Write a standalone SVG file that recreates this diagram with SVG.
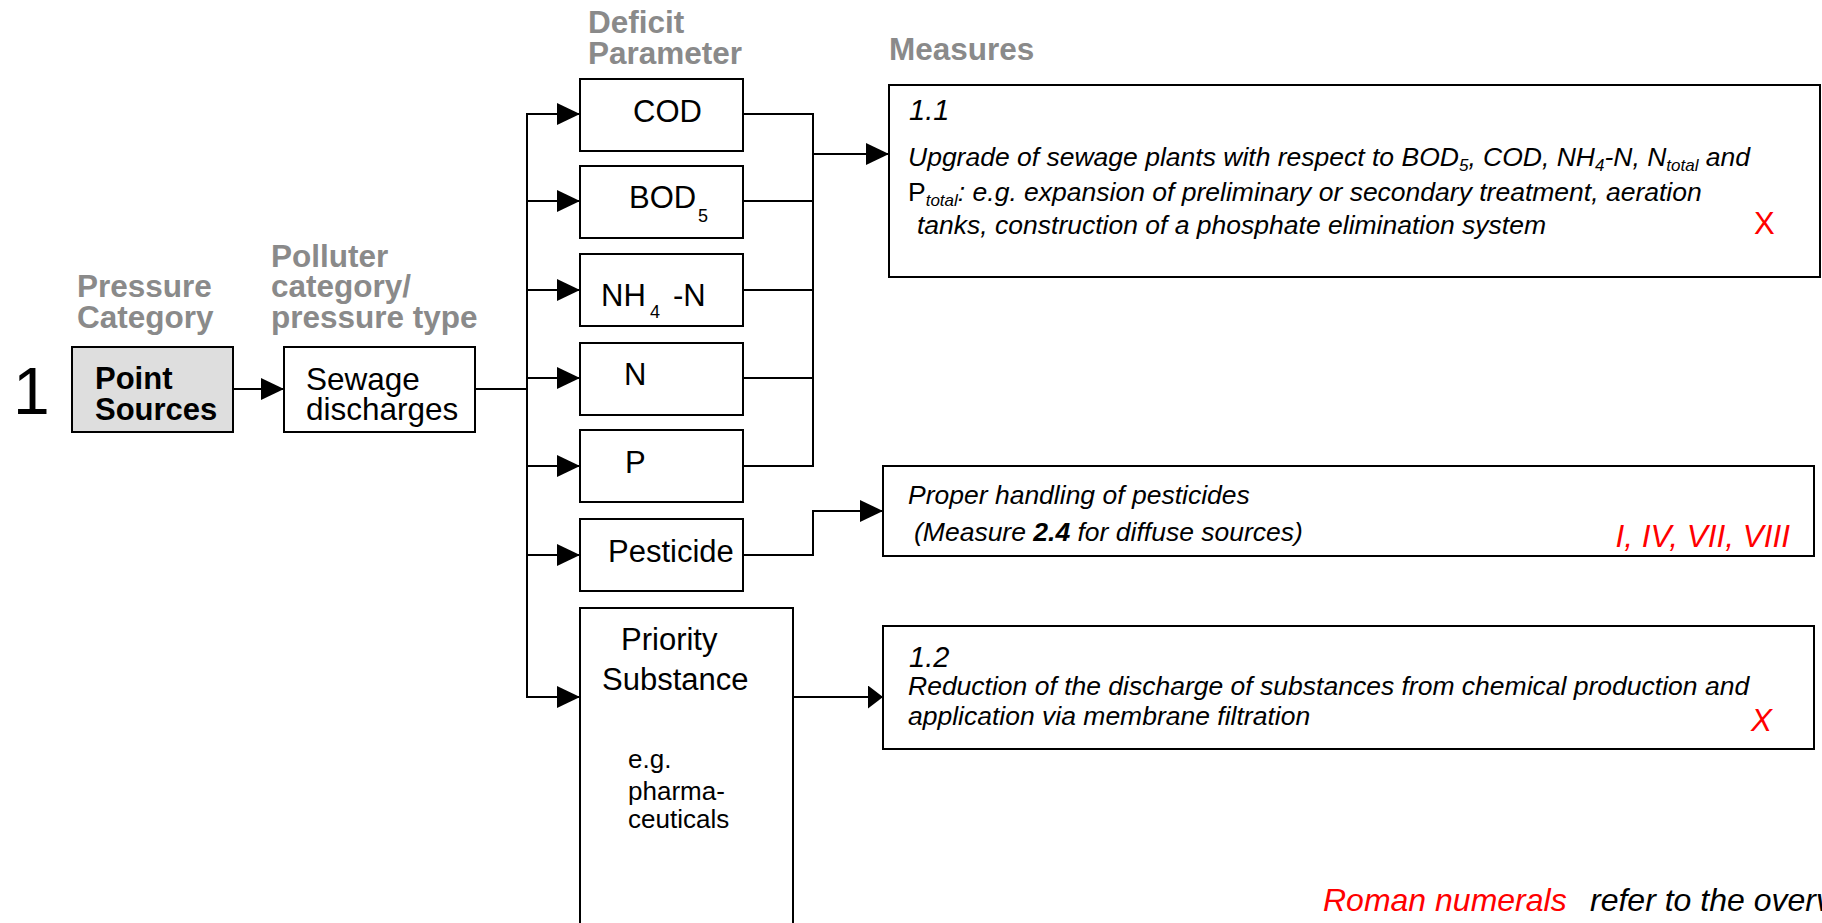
<svg xmlns="http://www.w3.org/2000/svg" width="1822" height="923" viewBox="0 0 1822 923">
<style>
.hdr{font-family:"Liberation Sans",Arial,sans-serif;font-weight:bold;font-size:31.5px;fill:#8a8a8a}
.lbl{font-family:"Liberation Sans",Arial,sans-serif;font-size:31px;fill:#000}
.sm{font-size:18px}
.eg{font-family:"Liberation Sans",Arial,sans-serif;font-size:26px;fill:#000}
.it{font-family:"Liberation Sans",Arial,sans-serif;font-style:italic;font-size:26.5px;fill:#000}
.num{font-family:"Liberation Sans",Arial,sans-serif;font-style:italic;font-size:29px;fill:#000}
.big{font-size:31.5px}
.note{font-size:32px}
.red{fill:#ff0000}
.box{fill:#fff;stroke:#000;stroke-width:2}
.grey{fill:#dedede;stroke:#000;stroke-width:2}
.conn{stroke:#000;stroke-width:2;fill:none}
</style>
<defs>
<marker id="ah" markerUnits="userSpaceOnUse" markerWidth="23" markerHeight="22" refX="23" refY="11" orient="auto">
<path d="M0,0 L23,11 L0,22 Z" fill="#000"/>
</marker>
<marker id="ahs" markerUnits="userSpaceOnUse" markerWidth="15" markerHeight="23" refX="15" refY="11.5" orient="auto">
<path d="M0,0 L15,11.5 L0,23 Z" fill="#000"/>
</marker>
</defs>
<rect width="1822" height="923" fill="#fff"/>

<g id="headers">
<text class="hdr" x="77" y="297">Pressure</text>
<text class="hdr" x="77" y="328">Category</text>
<text class="hdr" x="271" y="267">Polluter</text>
<text class="hdr" x="271" y="297">category/</text>
<text class="hdr" x="271" y="328">pressure type</text>
<text class="hdr" x="588" y="33">Deficit</text>
<text class="hdr" x="588" y="64">Parameter</text>
<text class="hdr" x="889" y="60">Measures</text>
</g>

<text id="row-number" x="13" y="414" font-family="Liberation Sans, Arial, sans-serif" font-size="66">1</text>

<g id="connectors">
<line class="conn" x1="233" y1="389" x2="284" y2="389" marker-end="url(#ah)"/>
<line class="conn" x1="475" y1="389" x2="527" y2="389"/>
<line class="conn" x1="527" y1="113" x2="527" y2="698"/>
<line class="conn" x1="527" y1="114" x2="580" y2="114" marker-end="url(#ah)"/>
<line class="conn" x1="527" y1="201" x2="580" y2="201" marker-end="url(#ah)"/>
<line class="conn" x1="527" y1="290" x2="580" y2="290" marker-end="url(#ah)"/>
<line class="conn" x1="527" y1="378" x2="580" y2="378" marker-end="url(#ah)"/>
<line class="conn" x1="527" y1="466" x2="580" y2="466" marker-end="url(#ah)"/>
<line class="conn" x1="527" y1="555" x2="580" y2="555" marker-end="url(#ah)"/>
<line class="conn" x1="527" y1="697" x2="580" y2="697" marker-end="url(#ah)"/>
<path class="conn" d="M743,114 H813 M743,201 H813 M743,290 H813 M743,378 H813 M743,466 H813 M813,113 V467"/>
<line class="conn" x1="813" y1="154" x2="889" y2="154" marker-end="url(#ah)"/>
<polyline class="conn" points="743,555 813,555 813,511 883,511" marker-end="url(#ah)"/>
<line class="conn" x1="793" y1="697" x2="883" y2="697" marker-end="url(#ahs)"/>
</g>

<g id="point-sources">
<rect class="grey" x="72" y="347" width="161" height="85"/>
<text class="lbl" x="95" y="389" font-weight="bold">Point</text>
<text class="lbl" x="95" y="420" font-weight="bold">Sources</text>
</g>

<g id="sewage">
<rect class="box" x="284" y="347" width="191" height="85"/>
<text class="lbl big" x="306" y="390">Sewage</text>
<text class="lbl big" x="306" y="420">discharges</text>
</g>

<g id="cod">
<rect class="box" x="580" y="79" width="163" height="72"/>
<text class="lbl" x="633" y="122">COD</text>
</g>
<g id="bod5">
<rect class="box" x="580" y="166" width="163" height="72"/>
<text class="lbl" x="629" y="208">BOD</text>
<text class="lbl sm" x="698" y="222">5</text>
</g>
<g id="nh4n">
<rect class="box" x="580" y="254" width="163" height="72"/>
<text class="lbl" x="601" y="306">NH</text>
<text class="lbl sm" x="650" y="318">4</text>
<text class="lbl" x="673" y="306">-N</text>
</g>
<g id="n">
<rect class="box" x="580" y="343" width="163" height="72"/>
<text class="lbl" x="624" y="385">N</text>
</g>
<g id="p">
<rect class="box" x="580" y="430" width="163" height="72"/>
<text class="lbl" x="625" y="473">P</text>
</g>
<g id="pesticide">
<rect class="box" x="580" y="519" width="163" height="72"/>
<text class="lbl" x="608" y="562">Pesticide</text>
</g>
<g id="priority">
<rect class="box" x="580" y="608" width="213" height="340"/>
<text class="lbl" x="621" y="650">Priority</text>
<text class="lbl" x="602" y="690">Substance</text>
<text class="eg" x="628" y="768">e.g.</text>
<text class="eg" x="628" y="800">pharma-</text>
<text class="eg" x="628" y="828">ceuticals</text>
</g>

<g id="measure-1-1">
<rect class="box" x="889" y="85" width="931" height="192"/>
<text class="num" x="909" y="120">1.1</text>
<text class="it" x="908" y="166">Upgrade of sewage plants with respect to BOD<tspan font-size="17" dy="5">5</tspan><tspan dy="-5">, COD, NH</tspan><tspan font-size="17" dy="5">4</tspan><tspan dy="-5">-N, N</tspan><tspan font-size="17" dy="5">total</tspan><tspan dy="-5"> and</tspan></text>
<text class="it" x="908" y="201"><tspan font-style="normal">P</tspan><tspan font-size="17" dy="5">total</tspan><tspan dy="-5">: e.g. expansion of preliminary or secondary treatment, aeration</tspan></text>
<text class="it" x="917" y="234">tanks, construction of a phosphate elimination system</text>
<text class="lbl red" x="1754" y="234">X</text>
</g>

<g id="measure-pesticides">
<rect class="box" x="883" y="466" width="931" height="90"/>
<text class="it" x="908" y="504">Proper handling of pesticides</text>
<text class="it" x="914" y="541">(Measure <tspan font-weight="bold">2.4</tspan> for diffuse sources)</text>
<text class="it red big" x="1790" y="547" text-anchor="end">I, IV, VII, VIII</text>
</g>

<g id="measure-1-2">
<rect class="box" x="883" y="626" width="931" height="123"/>
<text class="num" x="909" y="667">1.2</text>
<text class="it" x="908" y="695">Reduction of the discharge of substances from chemical production and</text>
<text class="it" x="908" y="725">application via membrane filtration</text>
<text class="it red big" x="1751" y="731">X</text>
</g>

<g id="note">
<text class="it red note" x="1323" y="911">Roman numerals</text>
<text class="it note" x="1590" y="911">refer to the overview</text>
</g>
</svg>
